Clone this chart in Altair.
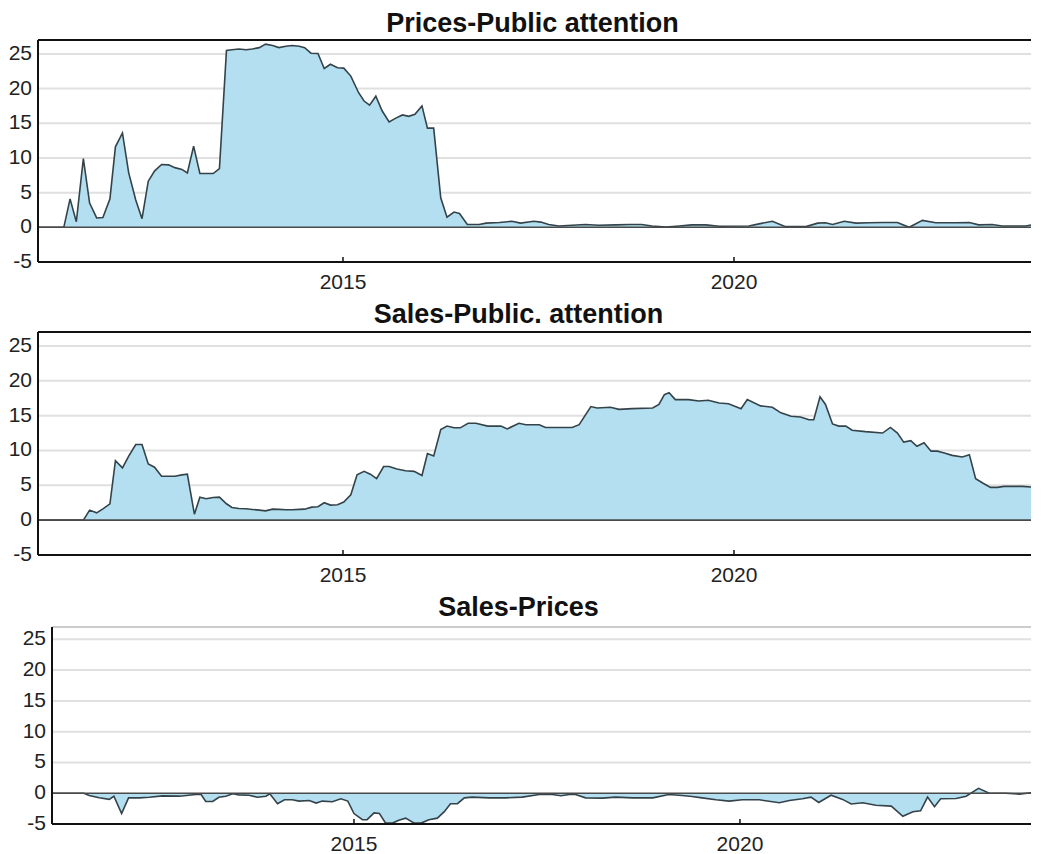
import altair as alt
import pandas as pd

FONT = "Liberation Sans"
FILL = "#b3dff0"
LINE = "#34434a"
GRID = "#e0e0e0"
INK = "#111111"
LABEL = "#222222"

Y_DOMAIN = [-5, 27]
Y_TICKS = [-5, 0, 5, 10, 15, 20, 25]
Y_LABELS = ["-5", "0", "5", "10", "15", "20", "25"]
Y_GRID = [5, 10, 15, 20, 25]
TICK_YEARS = [2015, 2020]
TICK_LABELS = ["2015", "2020"]

# ---------------- data ----------------
years1 = [2011.10, 2011.43, 2011.51, 2011.59, 2011.68, 2011.76, 2011.85, 2011.93,
          2012.02, 2012.09, 2012.18, 2012.26, 2012.35, 2012.43, 2012.51, 2012.59, 2012.68, 2012.77, 2012.85, 2012.94,
          2013.01, 2013.09, 2013.17, 2013.25, 2013.34, 2013.42, 2013.51, 2013.58, 2013.67, 2013.76, 2013.84, 2013.93,
          2014.01, 2014.10, 2014.18, 2014.27, 2014.35, 2014.44, 2014.51, 2014.59, 2014.68, 2014.76, 2014.84, 2014.93,
          2015.01, 2015.10, 2015.20, 2015.27, 2015.34, 2015.42, 2015.50, 2015.59, 2015.67, 2015.76, 2015.84, 2015.92,
          2016.01, 2016.08, 2016.16, 2016.25, 2016.33, 2016.42, 2016.49, 2016.59, 2016.74, 2016.83,
          2017.00, 2017.16, 2017.27, 2017.44, 2017.53, 2017.63, 2017.76, 2017.93,
          2018.10, 2018.27, 2018.49, 2018.66, 2018.82, 2018.95,
          2019.13, 2019.30, 2019.46, 2019.64, 2019.81,
          2020.19, 2020.32, 2020.49, 2020.66, 2020.92,
          2021.07, 2021.17, 2021.26, 2021.41, 2021.56, 2021.73, 2021.90,
          2022.09, 2022.24, 2022.41, 2022.58, 2022.83,
          2023.01, 2023.13, 2023.30, 2023.43, 2023.73, 2023.90, 2024.00]
prices_attention = [0, 0, 4.1, 0.8, 9.9, 3.5, 1.35, 1.4,
                    4.1, 11.6, 13.6, 7.85, 3.95, 1.25, 6.65, 8.1, 9.05, 9.0, 8.6, 8.35,
                    7.85, 11.7, 7.75, 7.75, 7.75, 8.45, 25.5, 25.6, 25.7, 25.6, 25.7, 25.9,
                    26.4, 26.2, 25.9, 26.1, 26.2, 26.1, 25.9, 25.1, 25.05, 22.9, 23.5, 23.0,
                    22.95, 21.8, 19.4, 18.2, 17.6, 18.9, 16.8, 15.2, 15.7, 16.2, 16.0, 16.3,
                    17.5, 14.3, 14.3, 4.25, 1.45, 2.2, 2.0, 0.4, 0.4, 0.6,
                    0.7, 0.87, 0.6, 0.87, 0.75, 0.4, 0.2, 0.3,
                    0.4, 0.3, 0.35, 0.4, 0.4, 0.2,
                    0.05, 0.2, 0.35, 0.35, 0.15,
                    0.2, 0.5, 0.87, 0.1, 0.1,
                    0.6, 0.65, 0.4, 0.87, 0.6, 0.65, 0.7,
                    0.7, 0.0, 1.0, 0.65, 0.65,
                    0.7, 0.35, 0.4, 0.2, 0.2, 0.55, 0.55]

years2 = [2011.10, 2011.68, 2011.76, 2011.85, 2011.93,
          2012.02, 2012.09, 2012.18, 2012.26, 2012.35, 2012.43, 2012.51, 2012.59, 2012.68, 2012.77, 2012.85, 2012.94,
          2013.01, 2013.10, 2013.17, 2013.25, 2013.34, 2013.42, 2013.51, 2013.58, 2013.67, 2013.76, 2013.84, 2013.93,
          2014.01, 2014.10, 2014.18, 2014.27, 2014.35, 2014.44, 2014.51, 2014.60, 2014.68, 2014.76, 2014.84, 2014.93,
          2015.01, 2015.10, 2015.18, 2015.27, 2015.35, 2015.43, 2015.52, 2015.59, 2015.69, 2015.80, 2015.91,
          2016.01, 2016.08, 2016.16, 2016.25, 2016.33, 2016.42, 2016.50, 2016.60, 2016.70, 2016.85,
          2017.02, 2017.10, 2017.25, 2017.34, 2017.51, 2017.59, 2017.76, 2017.93,
          2018.02, 2018.17, 2018.25, 2018.42, 2018.53, 2018.70, 2018.96,
          2019.04, 2019.11, 2019.17, 2019.25, 2019.42, 2019.55, 2019.67, 2019.81, 2019.93,
          2020.09, 2020.17, 2020.34, 2020.49, 2020.60, 2020.73, 2020.85, 2020.96,
          2021.02, 2021.10, 2021.17, 2021.26, 2021.34, 2021.43, 2021.51, 2021.68, 2021.90,
          2022.00, 2022.09, 2022.17, 2022.26, 2022.34, 2022.43, 2022.52, 2022.60, 2022.69, 2022.79, 2022.92,
          2023.01, 2023.09, 2023.18, 2023.28, 2023.37, 2023.45, 2023.69, 2023.82, 2024.00]
sales_attention = [0, 0, 1.44, 1.05, 1.63,
                   2.35, 8.54, 7.5, 9.2, 10.85, 10.85, 8.06, 7.6, 6.3, 6.3, 6.3, 6.5,
                   6.6, 0.85, 3.3, 3.07, 3.26, 3.3, 2.35, 1.82, 1.68, 1.63, 1.54, 1.44,
                   1.34, 1.58, 1.54, 1.49, 1.49, 1.54, 1.58, 1.87, 1.92, 2.5, 2.16, 2.2,
                   2.6, 3.65, 6.5, 7.0, 6.6, 5.95, 7.7, 7.7, 7.35, 7.1, 7.0,
                   6.4, 9.55, 9.2, 13.0, 13.5, 13.25, 13.25, 13.9, 13.9, 13.5,
                   13.5, 13.1, 13.9, 13.7, 13.7, 13.3, 13.3, 13.3,
                   13.7, 16.3, 16.1, 16.2, 15.9, 16.0, 16.1,
                   16.6, 18.0, 18.3, 17.3, 17.3, 17.1, 17.2, 16.8, 16.7,
                   16.0, 17.3, 16.4, 16.2, 15.4, 14.9, 14.8, 14.4,
                   14.4, 17.7, 16.6, 13.8, 13.5, 13.5, 12.9, 12.7, 12.5,
                   13.3, 12.5, 11.2, 11.4, 10.6, 11.1, 9.9, 9.9, 9.65, 9.3, 9.07,
                   9.4, 5.95, 5.33, 4.7, 4.7, 4.85, 4.85, 4.75, 4.95]

years3 = [2011.09, 2011.50, 2011.57, 2011.70, 2011.83, 2011.89, 2011.99,
          2012.08, 2012.22, 2012.35, 2012.52, 2012.74, 2012.95,
          2013.02, 2013.08, 2013.17, 2013.25, 2013.34, 2013.43, 2013.51, 2013.64, 2013.75, 2013.86, 2013.91,
          2014.01, 2014.10, 2014.20, 2014.29, 2014.42, 2014.51, 2014.59, 2014.72, 2014.83, 2014.92,
          2015.00, 2015.11, 2015.17, 2015.26, 2015.33, 2015.41, 2015.50, 2015.58, 2015.67, 2015.78, 2015.87, 2015.97,
          2016.08, 2016.17, 2016.25, 2016.34, 2016.43, 2016.53, 2016.75, 2016.97,
          2017.18, 2017.40, 2017.57, 2017.68, 2017.79, 2017.87,
          2018.00, 2018.22, 2018.39, 2018.61, 2018.87,
          2019.08, 2019.25, 2019.38, 2019.51, 2019.69, 2019.86,
          2020.03, 2020.25, 2020.51, 2020.64, 2020.81, 2020.92,
          2021.02, 2021.18, 2021.33, 2021.44, 2021.59, 2021.76, 2021.96,
          2022.11, 2022.24, 2022.34, 2022.43, 2022.52, 2022.60, 2022.80, 2022.93,
          2023.09, 2023.23, 2023.44, 2023.62, 2023.79, 2023.98]
sales_prices = [0, 0, -0.37, -0.75, -1.0, -0.5, -3.3,
                -0.75, -0.75, -0.65, -0.43, -0.48, -0.2,
                -0.2, -1.34, -1.34, -0.65, -0.48, -0.1, -0.27, -0.32, -0.65, -0.48, -0.1,
                -1.7, -1.07, -1.07, -1.28, -1.18, -1.6, -1.28, -1.39, -0.9, -1.28,
                -3.3, -4.3, -4.3, -3.2, -3.3, -4.85, -4.85, -4.4, -4.05, -4.85, -4.85, -4.3,
                -4.05, -3.0, -1.7, -1.7, -0.75, -0.63, -0.75, -0.75,
                -0.63, -0.2, -0.2, -0.42, -0.2, -0.2,
                -0.75, -0.8, -0.63, -0.75, -0.75,
                -0.2, -0.37, -0.53, -0.75, -1.07, -1.28,
                -1.07, -1.07, -1.55, -1.18, -0.9, -0.63,
                -1.5, -0.32, -1.0, -1.75, -1.55, -1.95, -2.1,
                -3.75, -3.0, -2.85, -0.63, -2.2, -0.9, -0.85, -0.48,
                0.8, 0, 0, -0.15, 0.1, 0.1]

WIDTH = 993


def panel(title, years, values, x_domain, width, height, inset, top_color, top_width,
          title_dx, title_offset, x_label_pad):
    xs = alt.Scale(domain=x_domain, nice=False, zero=False)
    ys = alt.Scale(domain=Y_DOMAIN, nice=False, zero=False)
    df = pd.DataFrame({"year": years, "value": values})
    x = alt.X("year:Q", scale=xs, axis=None)
    y = alt.Y("value:Q", scale=ys, axis=None)
    base = alt.Chart(df)

    grid = alt.Chart(pd.DataFrame({"v": Y_GRID})).mark_rule(color=GRID, strokeWidth=2).encode(
        y=alt.Y("v:Q", axis=None), x=alt.value(inset), x2=alt.value(width))
    area = base.mark_area(color=FILL, opacity=1, clip=True).encode(x=x, y=y, y2=alt.datum(0))
    line = base.mark_line(color=LINE, strokeWidth=1.6, clip=True).encode(x=x, y=y)
    one = alt.Chart(pd.DataFrame({"k": [0]}))
    zero = one.mark_rule(color="#4a4a4a", strokeWidth=1.6).encode(
        y=alt.YDatum(0, axis=None), x=alt.value(inset), x2=alt.value(width))
    top = one.mark_rule(color=top_color, strokeWidth=top_width).encode(
        y=alt.value(0), x=alt.value(inset), x2=alt.value(width))
    bottom = one.mark_rule(color=INK, strokeWidth=2).encode(
        y=alt.value(height), x=alt.value(inset), x2=alt.value(width))
    left = one.mark_rule(color=INK, strokeWidth=2).encode(
        x=alt.value(inset), y=alt.value(0), y2=alt.value(height))

    xt = pd.DataFrame({"year": TICK_YEARS, "label": TICK_LABELS})
    ticks = alt.Chart(xt).mark_rule(color=INK, strokeWidth=1.5).encode(
        x=alt.X("year:Q", axis=None), y=alt.value(height - 5), y2=alt.value(height))
    xlabels = alt.Chart(xt).mark_text(
        font=FONT, fontSize=21, color=LABEL, baseline="top", align="center").encode(
        x=alt.X("year:Q", axis=None), y=alt.value(height + x_label_pad), text="label:N")

    yt = pd.DataFrame({"v": Y_TICKS, "label": Y_LABELS})
    ylabels = alt.Chart(yt).mark_text(
        font=FONT, fontSize=21, color=LABEL, baseline="middle", align="right").encode(
        y=alt.Y("v:Q", axis=None), x=alt.value(inset - 6), text="label:N")

    return alt.layer(grid, area, line, zero, top, bottom, left, ticks, xlabels, ylabels).properties(
        width=width, height=height,
        title=alt.Title(title, fontSize=27, fontWeight="bold", font=FONT, color=INK,
                        offset=title_offset, frame="group", dx=title_dx))


p1 = panel("Prices-Public attention", years1, prices_attention, [2011.10, 2023.798],
           WIDTH, 222, 0, INK, 2, -2, 1, 10)
p2 = panel("Sales-Public. attention", years2, sales_attention, [2011.10, 2023.798],
           WIDTH, 223, 0, INK, 2, -16, 2, 10)
p3 = panel("Sales-Prices", years3, sales_prices, [2010.907, 2023.770],
           WIDTH, 197, 14, "#9a9a9a", 1.2, -16, 4, 10)

chart = alt.vconcat(p1, p2, p3, spacing=8).properties(
    padding={"left": 0, "top": 2, "right": 0, "bottom": 0}
).configure_view(stroke=None)

chart.save("out.html", embed_options={"renderer": "svg", "actions": False})
